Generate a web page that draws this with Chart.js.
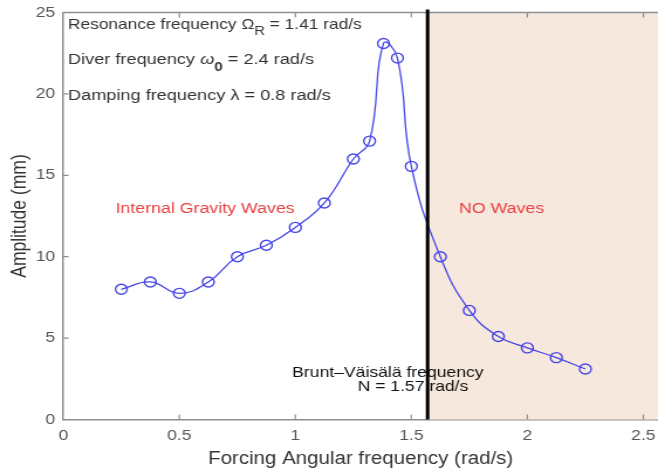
<!DOCTYPE html>
<html>
<head>
<meta charset="utf-8">
<script src="https://cdn.jsdelivr.net/npm/chart.js@4.4.1/dist/chart.umd.min.js"></script>
<style>
  html, body { margin: 0; padding: 0; background: #ffffff; overflow: hidden; width: 658px; height: 470px; }
  /* the reference figure is stretched horizontally; reproduce that stretch */
  #wrap { width: 562px; height: 470px; transform: scaleX(1.1708); transform-origin: 0 0; }
</style>
</head>
<body>
<div id="wrap"><canvas id="c" width="562" height="470"></canvas></div>
<script>
// ---- data ----
const forcingFrequency = [0.25, 0.375, 0.5, 0.625, 0.75, 0.875, 1.0, 1.125, 1.25, 1.32, 1.38, 1.44, 1.5, 1.625, 1.75, 1.875, 2.0, 2.125, 2.25];
const amplitude = [8.0, 8.45, 7.75, 8.45, 10.0, 10.7, 11.8, 13.3, 16.0, 17.1, 23.1, 22.2, 15.55, 10.0, 6.7, 5.1, 4.4, 3.8, 3.1];
const xTickValues = [0, 0.5, 1, 1.5, 2, 2.5];
const yTickValues = [0, 5, 10, 15, 20, 25];
const bruntFrequency = 1.57;
const xTitle = 'Forcing Angular frequency (rad/s)';
const yTitle = 'Amplitude (mm)';

const FONT = '"Liberation Sans", Arial, Helvetica, sans-serif';
const BLUE = 'rgb(70,70,232)';
const RED = 'rgb(232,66,66)';
const AXIS = '#8f8f8f';

const points = forcingFrequency.map((x, i) => ({ x: x, y: amplitude[i] }));

const decorPlugin = {
  id: 'decor',
  beforeDatasetsDraw(chart) {
    const { ctx, chartArea, scales } = chart;
    const xs = scales.x;
    const xN = xs.getPixelForValue(bruntFrequency);
    ctx.save();
    ctx.fillStyle = '#f7e8de';
    ctx.fillRect(xN, chartArea.top, chart.width - xN, chartArea.bottom - chartArea.top);
    ctx.strokeStyle = AXIS;
    ctx.lineWidth = 1.5;
    ctx.beginPath();
    ctx.moveTo(chartArea.left, chartArea.top);
    ctx.lineTo(chart.width, chartArea.top);
    ctx.stroke();
    ctx.restore();
  },
  afterDatasetsDraw(chart) {
    const { ctx, chartArea, scales } = chart;
    const xs = scales.x, ys = scales.y;
    ctx.save();
    // inward ticks
    ctx.strokeStyle = AXIS;
    ctx.lineWidth = 1.2;
    ctx.beginPath();
    xTickValues.forEach(v => {
      const px = xs.getPixelForValue(v);
      if (px <= chartArea.left + 1 || px >= chartArea.right - 1) return;
      ctx.moveTo(px, chartArea.bottom); ctx.lineTo(px, chartArea.bottom - 5);
      ctx.moveTo(px, chartArea.top); ctx.lineTo(px, chartArea.top + 5);
    });
    yTickValues.forEach(v => {
      const py = ys.getPixelForValue(v);
      if (py >= chartArea.bottom - 1 || py <= chartArea.top + 1) return;
      ctx.moveTo(chartArea.left, py); ctx.lineTo(chartArea.left + 4.5, py);
    });
    ctx.stroke();

    // annotation text
    ctx.textBaseline = 'middle';
    ctx.fillStyle = '#333333';
    const base = '15.5px ' + FONT;
    const sub = '13px ' + FONT;
    const x0 = chartArea.left + 4;
    function seq(parts, x, y) {
      parts.forEach(p => {
        ctx.font = p.font;
        ctx.fillText(p.t, x, y + (p.dy || 0));
        x += ctx.measureText(p.t).width;
      });
    }
    seq([{ t: 'Resonance frequency \u03A9', font: '14.8px ' + FONT }, { t: 'R', font: '12.5px ' + FONT, dy: 7 }, { t: ' = 1.41 rad/s', font: '14.8px ' + FONT }], x0, 25);
    seq([{ t: 'Diver frequency ', font: base }, { t: '\u03C9', font: 'italic ' + base }, { t: '0', font: 'bold ' + sub, dy: 7 }, { t: ' = 2.4 rad/s', font: base }], x0, 60);
    seq([{ t: 'Damping frequency \u03BB = 0.8 rad/s', font: base }], x0, 96);

    ctx.fillStyle = RED;
    ctx.font = '15.2px ' + FONT;
    ctx.textAlign = 'center';
    ctx.fillText('Internal Gravity Waves', xs.getPixelForValue(0.611), 209);
    ctx.fillText('NO Waves', xs.getPixelForValue(1.889), 209);

    ctx.fillStyle = '#111111';
    ctx.font = '15px ' + FONT;
    ctx.fillText('Brunt\u2013V\u00E4is\u00E4l\u00E4 frequency', xs.getPixelForValue(1.399), 373);
    ctx.fillText('N = 1.57 rad/s', xs.getPixelForValue(1.507), 387);

    // Brunt-Vaisala vertical line
    const xN = xs.getPixelForValue(bruntFrequency);
    ctx.strokeStyle = '#000000';
    ctx.lineWidth = 3.0;
    ctx.beginPath();
    ctx.moveTo(xN, chartArea.top - 3);
    ctx.lineTo(xN, chartArea.bottom);
    ctx.stroke();
    ctx.restore();
  }
};

new Chart(document.getElementById('c'), {
  type: 'scatter',
  data: {
    datasets: [{
      data: points,
      showLine: true,
      tension: 0.45,
      borderColor: BLUE,
      borderWidth: 1.3,
      pointRadius: 5,
      pointBorderWidth: 1.4,
      pointBorderColor: BLUE,
      pointBackgroundColor: 'rgba(0,0,0,0)',
      pointHoverRadius: 5
    }]
  },
  options: {
    responsive: false,
    animation: false,
    devicePixelRatio: 1,
    layout: { autoPadding: false, padding: { top: 12.5, right: 0, bottom: 0, left: 0 } },
    plugins: { legend: { display: false }, tooltip: { enabled: false } },
    scales: {
      x: {
        type: 'linear',
        min: 0, max: 2.563,
        afterBuildTicks: s => { s.ticks = xTickValues.map(v => ({ value: v })); },
        afterFit: s => { s.height = 50.5; s.paddingLeft = 0; s.paddingRight = 0; },
        grid: { display: false, drawTicks: false },
        border: { display: true, color: AXIS, width: 1.5 },
        ticks: { color: '#555555', font: { family: FONT, size: 15 }, padding: 7.5, maxRotation: 0, autoSkip: false,
                 callback: v => String(v) },
        title: { display: true, text: xTitle, color: '#333333', font: { family: FONT, size: 17.5 }, padding: { top: 0, bottom: 0.5 } }
      },
      y: {
        type: 'linear',
        min: 0, max: 25,
        afterBuildTicks: s => { s.ticks = yTickValues.map(v => ({ value: v })); },
        afterFit: s => { s.width = 54.07; s.paddingTop = 0; s.paddingBottom = 0; },
        grid: { display: false, drawTicks: false },
        border: { display: true, color: AXIS, width: 1.5 },
        ticks: { color: '#555555', font: { family: FONT, size: 15 }, padding: 7 },
        title: { display: true, text: yTitle, color: '#333333', font: { family: FONT, size: 17.5 }, padding: { top: 6.5, bottom: 0 } }
      }
    }
  },
  plugins: [decorPlugin]
});
</script>
</body>
</html>
